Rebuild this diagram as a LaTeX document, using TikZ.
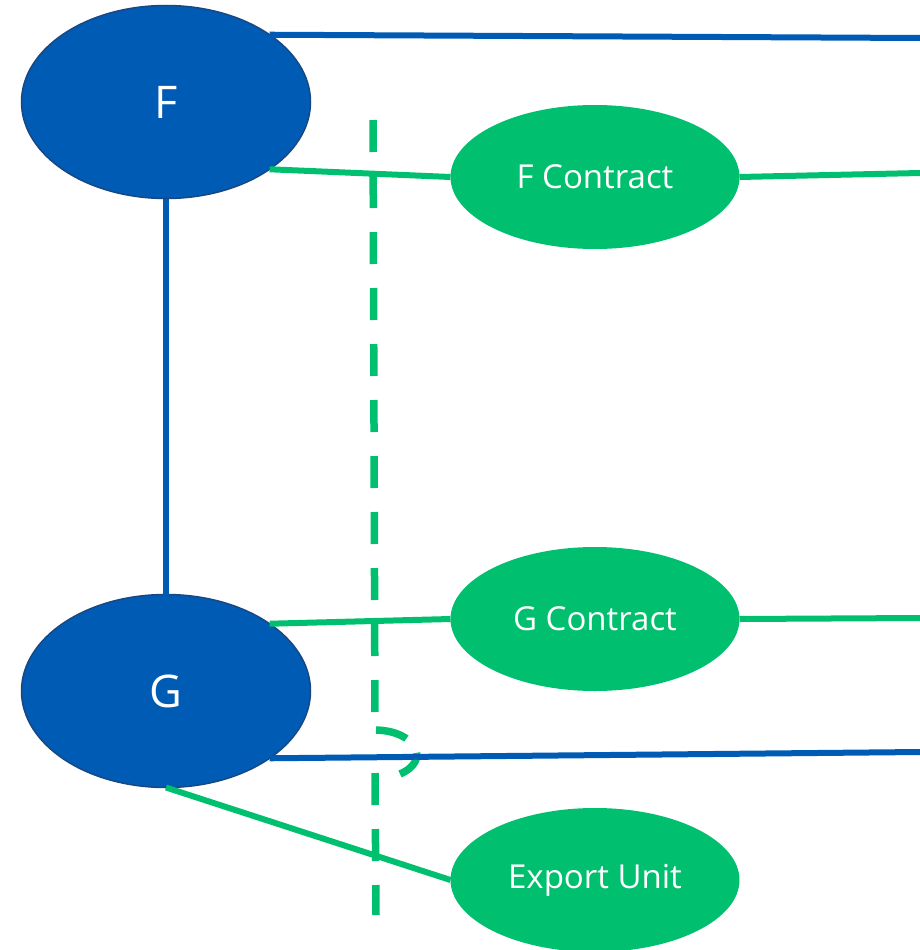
\documentclass[tikz,border=0pt]{standalone}
\usepackage{fontspec}
\setmainfont{Open Sans}
\usetikzlibrary{shapes.geometric}
\definecolor{nodeblue}{RGB}{0,91,180}
\definecolor{edgeblue}{RGB}{24,72,132}
\definecolor{nodegreen}{RGB}{0,192,111}
\begin{document}
\begin{tikzpicture}[x=1pt,y=-1pt,
    party/.style={ellipse,fill=nodeblue,draw=edgeblue,line width=1.5pt,minimum width=289pt,minimum height=193pt,inner sep=0pt,outer sep=0pt,text=white,font=\fontsize{45}{54}\selectfont},
    deal/.style={ellipse,fill=nodegreen,minimum width=289pt,minimum height=144pt,inner sep=0pt,outer sep=0pt,text=white,font=\fontsize{33}{40}\selectfont},
    blueline/.style={draw=nodeblue,line width=6pt},
    greenline/.style={draw=nodegreen,line width=6pt},
    divider/.style={draw=nodegreen,line width=7.5pt,dash pattern=on 32pt off 24pt}]
        \useasboundingbox (0,0) rectangle (920,950);
        \node[party](F) at (166,102) {F};
        \node[party](G) at (166,691) {G};
        \node[deal](fc) at (595,177) {F Contract};
        \node[deal](gc) at (595,619) {G Contract};
        \node[deal](eu) at (595,880) {Export Unit};
        \coordinate(ftop) at (920,38);
        \coordinate(fend) at (920,173);
        \coordinate(gend) at (920,618);
        \coordinate(gbot) at (920,752);
        \draw[divider](373,120)--(375,730);
        \draw[divider,dash pattern=on 32pt off 18pt](376,730) .. controls (415,731) and (432,760) .. (400,774);
        \draw[divider](375,773)--(376,915);
        \draw[blueline](F.south)--(G.north);
        \draw[blueline](F.33)--(ftop);
        \draw[blueline](G.-33)--(gbot);
        \draw[greenline](F.-33)--(fc.west);
        \draw[greenline](fc.east)--(fend);
        \draw[greenline](G.33)--(gc.west);
        \draw[greenline](gc.east)--(gend);
        \draw[greenline](G.south)--(eu.west);
        \end{tikzpicture}
\end{document}
